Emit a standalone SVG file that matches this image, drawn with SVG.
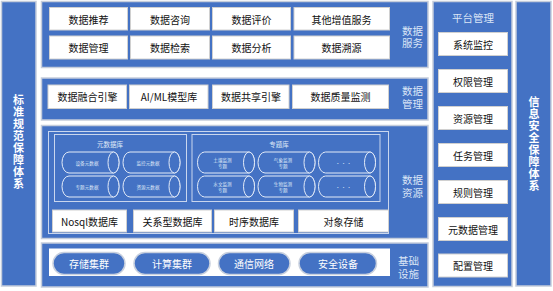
<svg xmlns="http://www.w3.org/2000/svg" xmlns:xlink="http://www.w3.org/1999/xlink" width="553" height="291" viewBox="0 0 553 291">
  <style>
    text { font-family: "Noto Sans CJK SC", "Noto Sans", sans-serif; }
    .panel { fill: #4472C4; stroke: #c5cddb; stroke-width: 1.5; }
    .btn { fill: #ffffff; stroke: #d0d0d0; stroke-width: 1; }
    .btxt { font-size: 10px; fill: #111111; text-anchor: middle; dominant-baseline: central; }
    .lbl { font-size: 10.5px; fill: #dbe5f6; text-anchor: middle; dominant-baseline: central; }
    .vtxt { font-size: 11px; font-weight: bold; fill: #ffffff; text-anchor: middle; writing-mode: vertical-rl; letter-spacing: 1px; }
    .frame { fill: none; stroke: #c9d6ee; stroke-width: 1; }
    .sub { font-size: 6.5px; fill: #dfe8f7; text-anchor: middle; dominant-baseline: central; }
    .tiny { font-size: 4.6px; fill: #dfe8f7; text-anchor: middle; dominant-baseline: central; }
    .pill { fill: #4472C4; stroke: #c8d0de; stroke-width: 1.5; }
    .ptxt { font-size: 10px; fill: #ffffff; text-anchor: middle; dominant-baseline: central; }
    .cyl { fill: #4472C4; stroke: #e3ebf8; stroke-width: 1; }
  </style>
  <defs>
    <!-- horizontal storage cylinder, 57 x 21 -->
    <g id="cyl">
      <path class="cyl" d="M7,0 H51.5 A5.5 10.5 0 0 1 51.5 21 H7 A7 10.5 0 0 1 7 0 Z"/>
      <ellipse class="cyl" cx="51.5" cy="10.5" rx="5.5" ry="10.5"/>
    </g>
  </defs>

  <rect x="0" y="0" width="553" height="291" fill="#ffffff"/>

  <!-- left column: standards -->
  <g id="standards">
    <rect class="panel" x="1.5" y="1.5" width="34.5" height="284.5"/>
    <text class="vtxt" x="18.5" y="142.5">标准规范保障体系</text>
  </g>

  <!-- data services layer -->
  <g id="data-service">
    <rect class="panel" x="41.5" y="1.5" width="386.5" height="66"/>
    <rect class="btn" x="49.5" y="7.5" width="78" height="22.5"/>
    <text class="btxt" x="88.5" y="19">数据推荐</text>
    <rect class="btn" x="130.5" y="7.5" width="79" height="22.5"/>
    <text class="btxt" x="170" y="19">数据咨询</text>
    <rect class="btn" x="212.5" y="7.5" width="78" height="22.5"/>
    <text class="btxt" x="251.5" y="19">数据评价</text>
    <rect class="btn" x="294" y="7.5" width="95.5" height="22.5"/>
    <text class="btxt" x="341.5" y="19">其他增值服务</text>
    <rect class="btn" x="49.5" y="36" width="78" height="23"/>
    <text class="btxt" x="88.5" y="47.5">数据管理</text>
    <rect class="btn" x="130.5" y="36" width="79" height="23"/>
    <text class="btxt" x="170" y="47.5">数据检索</text>
    <rect class="btn" x="212.5" y="36" width="78" height="23"/>
    <text class="btxt" x="251.5" y="47.5">数据分析</text>
    <rect class="btn" x="294" y="36" width="95.5" height="23"/>
    <text class="btxt" x="341.5" y="47.5">数据溯源</text>
    <text class="lbl" x="412.5" y="30"><tspan x="412.5">数据</tspan><tspan x="412.5" dy="12">服务</tspan></text>
  </g>

  <!-- data management layer -->
  <g id="data-management">
    <rect class="panel" x="41.5" y="78" width="386.5" height="42"/>
    <rect class="btn" x="48" y="85" width="78.5" height="23.5"/>
    <text class="btxt" x="87.5" y="96.5">数据融合引擎</text>
    <rect class="btn" x="129.5" y="85" width="78.5" height="23.5"/>
    <text class="btxt" x="169" y="96.5">AI/ML模型库</text>
    <rect class="btn" x="212.5" y="85" width="76.5" height="23.5"/>
    <text class="btxt" x="251" y="96.5">数据共享引擎</text>
    <rect class="btn" x="292.5" y="85" width="96" height="23.5"/>
    <text class="btxt" x="340.5" y="96.5">数据质量监测</text>
    <text class="lbl" x="412.5" y="90"><tspan x="412.5">数据</tspan><tspan x="412.5" dy="13">管理</tspan></text>
  </g>

  <!-- data resource layer -->
  <g id="data-resource">
    <rect class="panel" x="41.5" y="125.5" width="386.5" height="113"/>
    <rect class="frame" x="48.5" y="131.5" width="340" height="102" stroke="#c5cddb"/>

    <!-- metadata store -->
    <rect class="frame" x="54.5" y="134.5" width="132" height="67"/>
    <text class="sub" x="110" y="143.5">元数据库</text>
    <use xlink:href="#cyl" x="62" y="152"/>
    <use xlink:href="#cyl" x="123" y="152"/>
    <use xlink:href="#cyl" x="62" y="176"/>
    <use xlink:href="#cyl" x="123" y="176"/>
    <text class="tiny" x="87" y="162.5">设备元数据</text>
    <text class="tiny" x="148" y="162.5">监控元数据</text>
    <text class="tiny" x="87" y="186.5">专题元数据</text>
    <text class="tiny" x="148" y="186.5">资源元数据</text>

    <!-- thematic store -->
    <rect class="frame" x="192" y="134.5" width="188" height="67"/>
    <text class="sub" x="279" y="144">专题库</text>
    <use xlink:href="#cyl" x="197.5" y="152"/>
    <use xlink:href="#cyl" x="258" y="152"/>
    <use xlink:href="#cyl" x="318.5" y="152"/>
    <use xlink:href="#cyl" x="197.5" y="176"/>
    <use xlink:href="#cyl" x="258" y="176"/>
    <use xlink:href="#cyl" x="318.5" y="176"/>
    <text class="tiny" x="222.5" y="159.5"><tspan x="222.5">土壤监测</tspan><tspan x="222.5" dy="6">专题</tspan></text>
    <text class="tiny" x="283" y="159.5"><tspan x="283">气象监测</tspan><tspan x="283" dy="6">专题</tspan></text>
    <text class="tiny" x="222.5" y="183.5"><tspan x="222.5">水文监测</tspan><tspan x="222.5" dy="6">专题</tspan></text>
    <text class="tiny" x="283" y="183.5"><tspan x="283">生物监测</tspan><tspan x="283" dy="6">专题</tspan></text>
    <text class="tiny" x="343.5" y="162.5" font-size="7">· · ·</text>
    <text class="tiny" x="343.5" y="186.5" font-size="7">· · ·</text>

    <!-- storage engines -->
    <rect class="btn" x="52.5" y="210" width="74" height="22"/>
    <text class="btxt" x="89.5" y="221">Nosql数据库</text>
    <rect class="btn" x="133.5" y="210" width="78" height="22"/>
    <text class="btxt" x="172.5" y="221">关系型数据库</text>
    <rect class="btn" x="214.5" y="210" width="79" height="22"/>
    <text class="btxt" x="254" y="221">时序数据库</text>
    <rect class="btn" x="298.5" y="210" width="90" height="22"/>
    <text class="btxt" x="343.5" y="221">对象存储</text>

    <text class="lbl" x="412.5" y="179"><tspan x="412.5">数据</tspan><tspan x="412.5" dy="12.5">资源</tspan></text>
  </g>

  <!-- infrastructure layer -->
  <g id="infrastructure">
    <rect class="panel" x="41.5" y="243" width="386.5" height="44"/>
    <rect x="49" y="248.5" width="341" height="27.5" fill="#ffffff"/>
    <rect class="pill" x="53" y="252.5" width="72" height="22" rx="11"/>
    <text class="ptxt" x="89" y="263.5">存储集群</text>
    <rect class="pill" x="134" y="252.5" width="76" height="22" rx="11"/>
    <text class="ptxt" x="172" y="263.5">计算集群</text>
    <rect class="pill" x="218.5" y="252.5" width="71.5" height="22" rx="11"/>
    <text class="ptxt" x="254" y="263.5">通信网络</text>
    <rect class="pill" x="299" y="252.5" width="77.5" height="22" rx="11"/>
    <text class="ptxt" x="338" y="263.5">安全设备</text>
    <text class="lbl" x="408.5" y="260"><tspan x="408.5">基础</tspan><tspan x="408.5" dy="13">设施</tspan></text>
  </g>

  <!-- platform management column -->
  <g id="platform">
    <rect class="panel" x="433" y="1.5" width="79" height="285"/>
    <text class="lbl" x="473" y="17.5" font-size="10">平台管理</text>
    <rect class="btn" x="438.5" y="32.5" width="69" height="23"/>
    <text class="btxt" x="473" y="44">系统监控</text>
    <rect class="btn" x="438.5" y="69.5" width="69" height="23"/>
    <text class="btxt" x="473" y="81">权限管理</text>
    <rect class="btn" x="438.5" y="106.5" width="69" height="23"/>
    <text class="btxt" x="473" y="118">资源管理</text>
    <rect class="btn" x="438.5" y="143.5" width="69" height="23"/>
    <text class="btxt" x="473" y="155">任务管理</text>
    <rect class="btn" x="438.5" y="180.5" width="69" height="23"/>
    <text class="btxt" x="473" y="192">规则管理</text>
    <rect class="btn" x="438.5" y="217.5" width="69" height="23"/>
    <text class="btxt" x="473" y="229">元数据管理</text>
    <rect class="btn" x="438.5" y="254" width="69" height="23"/>
    <text class="btxt" x="473" y="265.5">配置管理</text>
  </g>

  <!-- right column: information security -->
  <g id="security">
    <rect class="panel" x="516" y="1.5" width="35" height="284.5"/>
    <text class="vtxt" x="534" y="144">信息安全保障体系</text>
  </g>

  <g id="connectors"/>
</svg>
